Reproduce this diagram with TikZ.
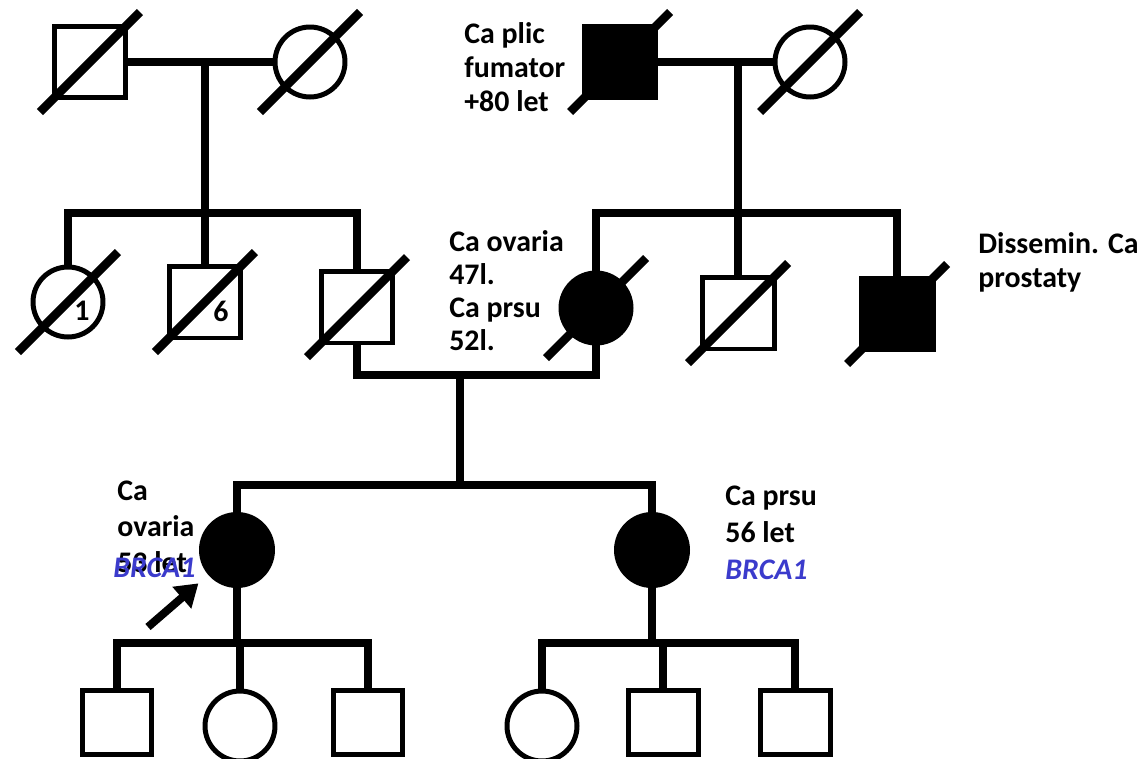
\documentclass[tikz,border=0pt]{standalone}
\usepackage{fontspec}
\setmainfont{Carlito}
\usetikzlibrary{arrows.meta}
\definecolor{geneblue}{RGB}{59,59,204}

\begin{document}
\begin{tikzpicture}[
        x=0.02cm, y=-0.02cm,
        male/.style={
            rectangle,
            draw=black,
            line width=0.1cm,
            fill=white,
            minimum size=1.44cm,
            inner sep=0pt
        },
        female/.style={
            circle,
            draw=black,
            line width=0.1cm,
            fill=white,
            minimum size=1.4cm,
            inner sep=0pt
        },
        child/.style={male, minimum width=1.4cm, minimum height=1.28cm},
        affected/.style={fill=black},
        link/.style={line width=0.16cm},
        deceased/.style={line width=0.17cm},
        lbl/.style={
            font=\fontsize{17}{19.5}\selectfont\bfseries,
            align=left,
            anchor=north west,
            inner sep=0pt
        },
        gene/.style={font=\fontsize{17}{19.5}\selectfont\bfseries\itshape, text=geneblue, inner sep=0pt},
        num/.style={font=\fontsize{17}{19.5}\selectfont\bfseries, inner sep=0pt},
        arrow/.style={line width=0.16cm, -{Triangle[length=0.44cm,width=0.55cm]}}
    ]
    \useasboundingbox (0,0) rectangle (1143,758);

    % Generation I
    \node[male] (gf1) at (90,62) {};
    \node[female] (gm1) at (310,62) {};
    \node[male, affected] (gf2) at (620,62) {};
    \node[female] (gm2) at (810,62) {};

    % Generation II
    \node[female] (a1) at (68,302) {};
    \node[male] (u6) at (205,302) {};
    \node[male] (fa) at (357,307) {};
    \node[female, affected] (mo) at (596,308) {};
    \node[male] (un) at (738,313) {};
    \node[male, affected] (ub) at (897,314) {};

    % Generation III
    \node[female, affected, minimum size=1.42cm] (pb) at (237,550) {};
    \node[female, affected, minimum size=1.42cm] (si) at (652,550) {};

    % Generation IV
    \node[child] (c1) at (117,722) {};
    \node[female] (c2) at (240,726) {};
    \node[child] (c3) at (368,722) {};
    \node[female] (d1) at (542,726) {};
    \node[child] (d2) at (663,722) {};
    \node[child] (d3) at (795,722) {};

    % Junctions
    \coordinate (m1) at (205,62);
    \coordinate (s1) at (205,213);
    \coordinate (m2) at (738,62);
    \coordinate (s2) at (738,213);
    \coordinate (m3) at (460,375);
    \coordinate (s3) at (460,485);
    \coordinate (s4) at (237,643);
    \coordinate (s5) at (652,643);
    \coordinate (pa) at (148,627);

    % Lines
    \draw[link] (gf1) -- (gm1);
    \draw[link] (gf2) -- (gm2);
    \draw[link] (m1) -- (s1);
    \draw[link] (m2) -- (s2);
    \draw[link] (a1) |- (s1) -| (fa);
    \draw[link] (s1) -- (u6);
    \draw[link] (mo) |- (s2) -| (ub);
    \draw[link] (s2) -- (un);
    \draw[link] (fa) |- (m3) -| (mo);
    \draw[link] (m3) -- (s3);
    \draw[link] (pb) |- (s3) -| (si);
    \draw[link] (pb) -- (s4);
    \draw[link] (c1) |- (s4) -| (c3);
    \draw[link] (c2) -- (c2 |- s4);
    \draw[link] (si) -- (s5);
    \draw[link] (d1) |- (s5) -| (d3);
    \draw[link] (d2) -- (d2 |- s5);

    % Deceased
    \foreach \n in {gf1,gm1,gf2,gm2,a1,u6,fa,mo,un,ub}
        \draw[deceased] (\n.center) ++(-50,50) -- ++(100,-100);

    \node[num] (n1) at ([shift={(14,9)}]a1.center) {1};
    \node[num] (n6) at ([shift={(16,9)}]u6.center) {6};

    % Labels
    \node[lbl] (tgf2) at (464,22) {Ca plic\\fumator\\+80 let};
    \node[lbl, font=\fontsize{17}{18.8}\selectfont\bfseries] (tmo) at (449,230) {Ca ovaria\\47l.\\Ca prsu\\52l.};
    \node[lbl] (tub) at (978,232) {Dissemin. Ca\\prostaty};
    \node[lbl, font=\fontsize{17}{20.4}\selectfont\bfseries] (tpb) at (117,481) {Ca\\ovaria\\53 let};
    \node[gene, anchor=base west] (gpb) at (113,577) {BRCA1};
    \node[lbl, font=\fontsize{17}{21}\selectfont\bfseries] (tsi) at (725,486) {Ca prsu\\56 let\\{\color{geneblue}\itshape BRCA1}};

    % Proband
    \draw[arrow, shorten >=0.26cm] (pa) -- (pb);

\end{tikzpicture}
\end{document}
